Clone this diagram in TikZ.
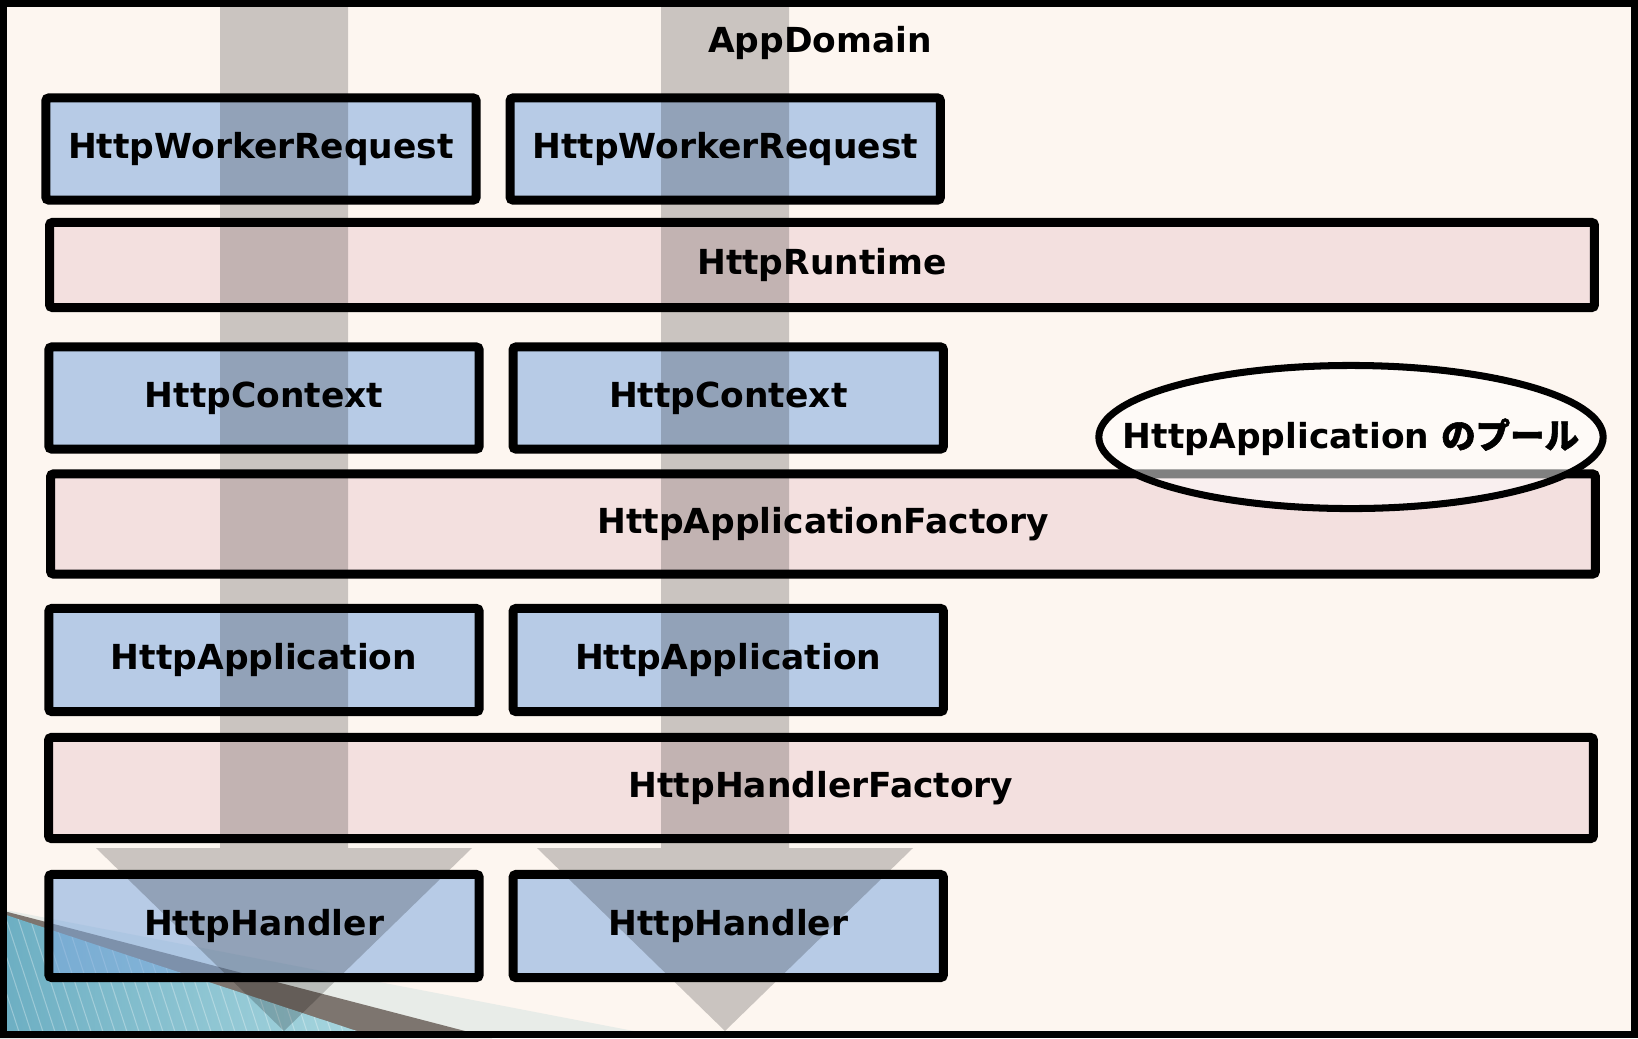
\documentclass[tikz,border=0pt]{standalone}
\usepackage{fontspec}
\setmainfont{DejaVu Sans}
\newfontfamily\jpfont{Noto Sans CJK JP}[FakeBold=1.6]
\usetikzlibrary{positioning,shapes.geometric}
\definecolor{cream}{RGB}{253,246,240}
\definecolor{boxblue}{RGB}{126,168,222}
\definecolor{boxpink}{RGB}{243,224,223}
\definecolor{tealdk}{RGB}{108,174,194}
\definecolor{teallt}{RGB}{170,216,224}
\definecolor{banddk}{RGB}{125,117,111}
\definecolor{bandlt}{RGB}{232,236,232}
\begin{document}
\begin{tikzpicture}[x=0.01cm, y=-0.01cm, node distance=4.64cm,
    font=\fontsize{9.8}{12}\selectfont\bfseries,
    layer/.style={draw, line width=2.56pt, rounded corners=0.8pt, inner sep=0pt},
    small/.style={layer, fill=boxblue, fill opacity=0.55, text opacity=1, minimum width=4.30cm, minimum height=1.02cm},
    wide/.style={layer, fill=boxpink, minimum width=15.44cm},
    flow/.style={fill=black, fill opacity=0.2}]
    \useasboundingbox (0,0) rectangle (1638,1038);
    \fill[cream] (0,0) rectangle (1638,1038);
    \begin{scope}
        \clip (0,0) rectangle (1638,1038);
        \fill[bandlt] (0,909) -- (670,1038) -- (0,1038) -- cycle;
        \fill[banddk] (0,910) -- (492,1038) -- (0,1038) -- cycle;
        \shade[left color=tealdk, right color=teallt] (0,913) -- (378,1038) -- (0,1038) -- cycle;
        \clip (0,913) -- (378,1038) -- (0,1038) -- cycle;
        \foreach \i in {-60,-48,...,400}
            \draw[white, opacity=0.3, line width=0.3pt] (\i,900) -- (\i+45,1038);
    \end{scope}
    \node (title) at (820,43) {AppDomain};
    \node (wr1) [small] at (261,149) {HttpWorkerRequest};
    \node (wr2) [small, right of=wr1] {HttpWorkerRequest};
    \node (runtime) [wide, minimum height=0.85cm] at (822,265) {HttpRuntime};
    \node (ctx1) [small] at (264,398) {HttpContext};
    \node (ctx2) [small, right of=ctx1] {HttpContext};
    \node (appfac) [wide, minimum height=1.00cm] at (823,524) {HttpApplicationFactory};
    \node (app1) [small, minimum height=1.03cm] at (264,660) {HttpApplication};
    \node (app2) [small, minimum height=1.03cm, right of=app1] {HttpApplication};
    \node (hdlfac) [wide, minimum height=1.01cm] at (821,788) {HttpHandlerFactory};
    \node (hdl1) [small, minimum height=1.03cm] at (264,926) {HttpHandler};
    \node (hdl2) [small, minimum height=1.03cm, right of=hdl1] {HttpHandler};
    \foreach \c in {284,725}
        \fill[flow] (\c-64,0) -- (\c+64,0) -- (\c+64,848) -- (\c+188,848) -- (\c,1031) -- (\c-188,848) -- (\c-64,848) -- cycle;
    \coordinate (poolc) at (1351,437);
    \draw[line width=2pt, fill=white, fill opacity=0.5] (poolc) ellipse [x radius=2.52cm, y radius=0.715cm];
    \node (pool) at (poolc) {HttpApplication {\jpfont のプール}};
    \draw[line width=2pt] (3.5,3.5) rectangle (1634.5,1034.5);
\end{tikzpicture}
\end{document}
